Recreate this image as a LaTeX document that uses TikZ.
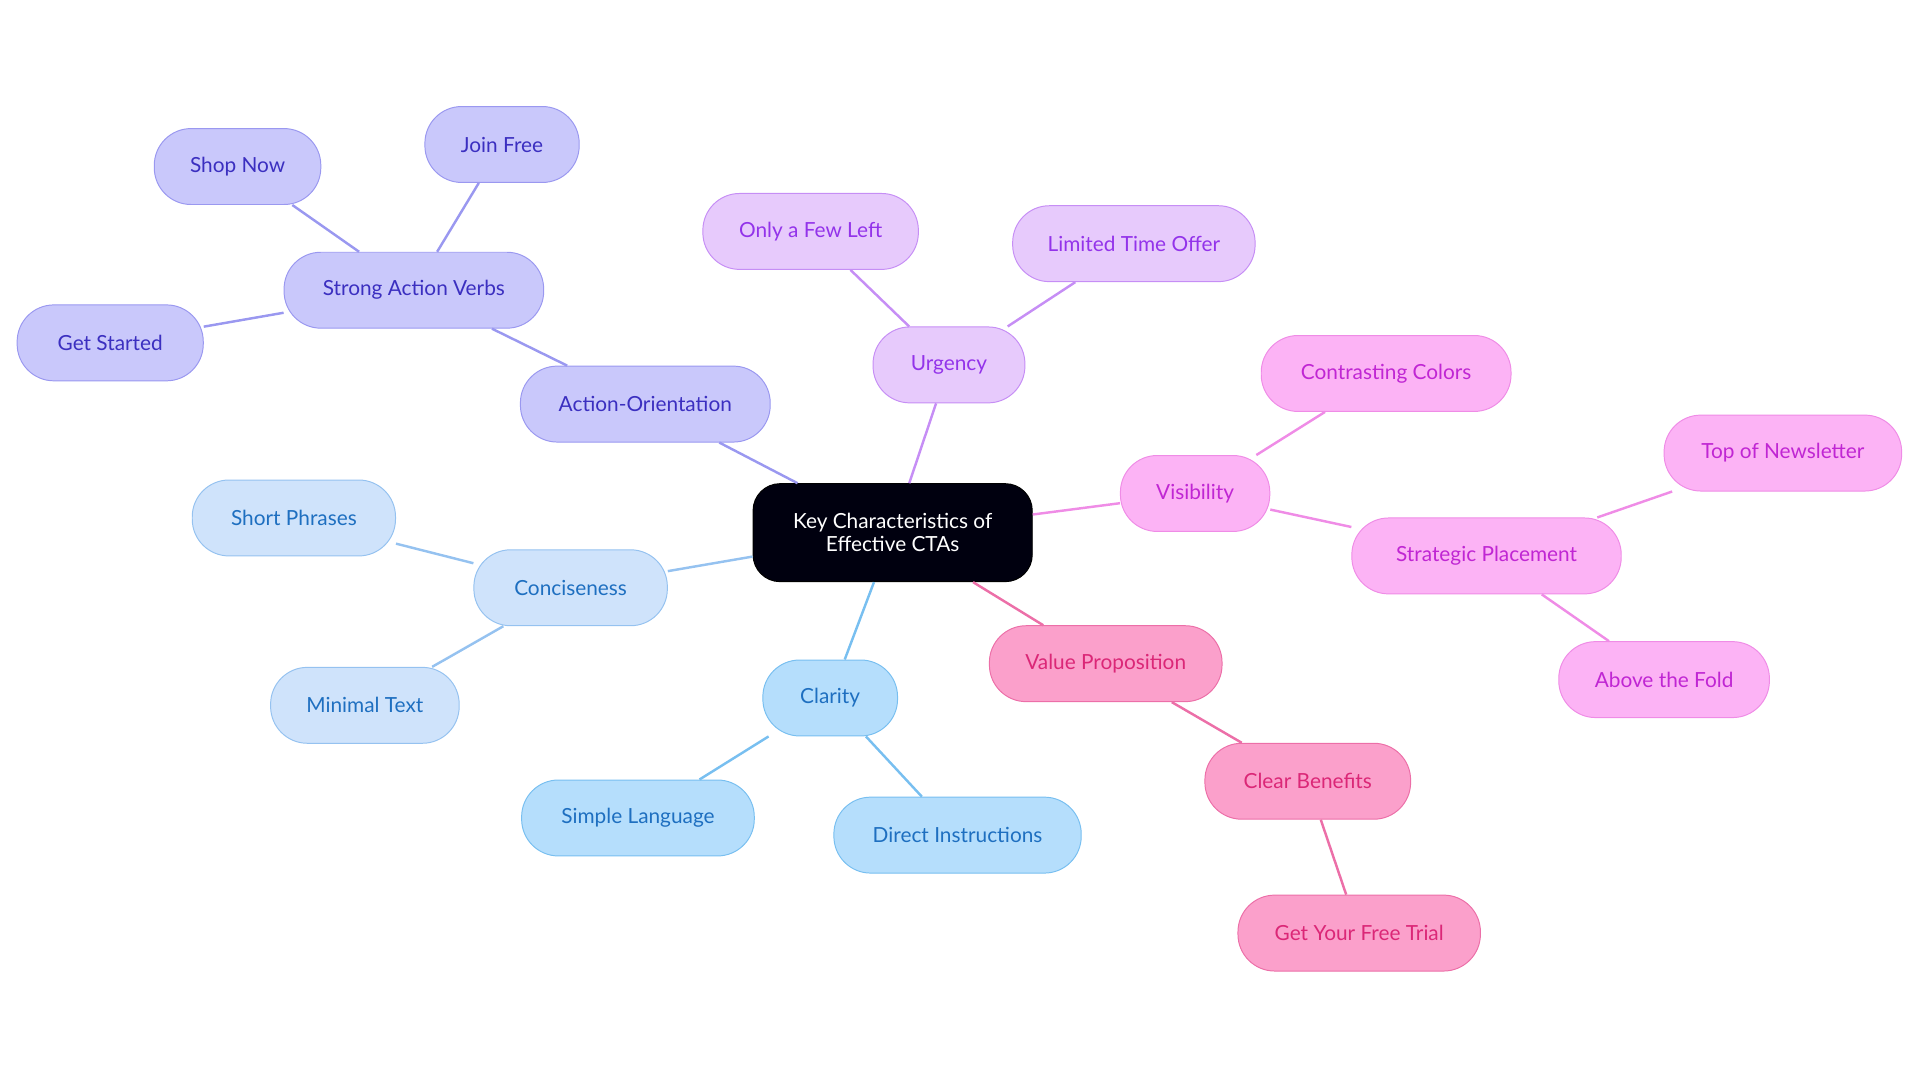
\documentclass[tikz,border=0pt]{standalone}
\usepackage{fontspec}
\setmainfont{Lato}
\begin{document}
\begin{tikzpicture}[x=1pt,y=-1pt,
  base/.style={rounded corners=30pt,minimum height=62pt,line width=0.8pt,font=\fontsize{17}{19}\selectfont,inner sep=0pt},
  ga/.style={base,fill=gaF,draw=gaD,text=gaT},
  gu/.style={base,fill=guF,draw=guD,text=guT},
  gv/.style={base,fill=gvF,draw=gvD,text=gvT},
  gp/.style={base,fill=gpF,draw=gpD,text=gpT},
  gc/.style={base,fill=gcF,draw=gcD,text=gcT},
  gn/.style={base,fill=gnF,draw=gnD,text=gnT},
  e/.style={line width=2pt}]
\definecolor{gaF}{HTML}{C9C8FB}\definecolor{gaD}{HTML}{9A98F0}\definecolor{gaT}{HTML}{3B2FC0}
\definecolor{guF}{HTML}{E7CAFC}\definecolor{guD}{HTML}{C68EF5}\definecolor{guT}{HTML}{9333EA}
\definecolor{gvF}{HTML}{FCB3F5}\definecolor{gvD}{HTML}{EF8CE6}\definecolor{gvT}{HTML}{C026D3}
\definecolor{gpF}{HTML}{FBA0CB}\definecolor{gpD}{HTML}{EC6FA8}\definecolor{gpT}{HTML}{DB2777}
\definecolor{gcF}{HTML}{B5DEFC}\definecolor{gcD}{HTML}{78BFF0}\definecolor{gcT}{HTML}{1E6FC0}
\definecolor{gnF}{HTML}{CFE3FB}\definecolor{gnD}{HTML}{95C2F0}\definecolor{gnT}{HTML}{1E6FC0}
\useasboundingbox (0,0) rectangle (1568,884);
\node[base,fill=black!90!blue!60!black,draw=black,text=white,minimum width=228pt,minimum height=80pt,align=center,rounded corners=22pt] (c) at (729,435) {Key Characteristics of\\Effective CTAs};
\node[ga,minimum width=204pt] (ao) at (527,330) {Action-Orientation};
\node[ga,minimum width=212pt] (sv) at (338,237) {Strong Action Verbs};
\node[ga,minimum width=136pt] (sn) at (194,136) {Shop Now};
\node[ga,minimum width=126pt] (jf) at (410,118) {Join Free};
\node[ga,minimum width=152pt] (gs) at (90,280) {Get Started};
\node[gu,minimum width=124pt] (ur) at (775,298) {Urgency};
\node[gu,minimum width=176pt] (of) at (662,189) {Only a Few Left};
\node[gu,minimum width=198pt] (lt) at (926,199) {Limited Time Offer};
\node[gv,minimum width=122pt] (vi) at (976,403) {Visibility};
\node[gv,minimum width=204pt] (cc) at (1132,305) {Contrasting Colors};
\node[gv,minimum width=220pt] (sp) at (1214,454) {Strategic Placement};
\node[gv,minimum width=194pt] (tn) at (1456,370) {Top of Newsletter};
\node[gv,minimum width=172pt] (af) at (1359,555) {Above the Fold};
\node[gp,minimum width=190pt] (vp) at (903,542) {Value Proposition};
\node[gp,minimum width=168pt] (cb) at (1068,638) {Clear Benefits};
\node[gp,minimum width=198pt] (ft) at (1110,762) {Get Your Free Trial};
\node[gc,minimum width=110pt] (cl) at (678,570) {Clarity};
\node[gc,minimum width=190pt] (sl) at (521,668) {Simple Language};
\node[gc,minimum width=202pt] (di) at (782,682) {Direct Instructions};
\node[gn,minimum width=158pt] (co) at (466,480) {Conciseness};
\node[gn,minimum width=166pt] (sh) at (240,423) {Short Phrases};
\node[gn,minimum width=154pt] (mt) at (298,576) {Minimal Text};
\begin{scope}[e,draw=gaD]
\draw (c)--(ao); \draw (ao)--(sv); \draw (sv)--(sn); \draw (sv)--(jf); \draw (sv)--(gs);
\end{scope}
\begin{scope}[e,draw=guD]
\draw (c)--(ur); \draw (ur)--(of); \draw (ur)--(lt);
\end{scope}
\begin{scope}[e,draw=gvD]
\draw (c)--(vi); \draw (vi)--(cc); \draw (vi)--(sp); \draw (sp)--(tn); \draw (sp)--(af);
\end{scope}
\begin{scope}[e,draw=gpD]
\draw (c)--(vp); \draw (vp)--(cb); \draw (cb)--(ft);
\end{scope}
\begin{scope}[e,draw=gcD]
\draw (c)--(cl); \draw (cl)--(sl); \draw (cl)--(di);
\end{scope}
\begin{scope}[e,draw=gnD]
\draw (c)--(co); \draw (co)--(sh); \draw (co)--(mt);
\end{scope}
\end{tikzpicture}
\end{document}
